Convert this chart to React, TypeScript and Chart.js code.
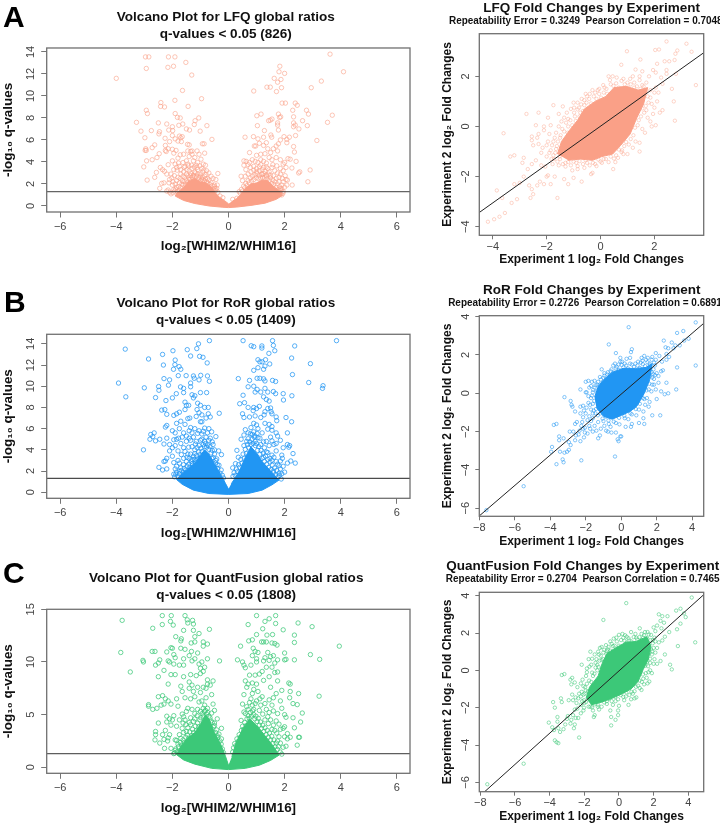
import React, { useEffect, useRef } from "react";
import { Chart, registerables } from "chart.js";

Chart.register(...registerables);

type P = [number, number];

const volcanoXTicks = [-6, -4, -2, 0, 2, 4, 6];
const lfqVolcanoYTicks = [0, 2, 4, 6, 8, 10, 12, 14];
const rorVolcanoYTicks = [0, 2, 4, 6, 8, 10, 12, 14];
const qfVolcanoYTicks = [0, 5, 10, 15];
const lfqPairXTicks = [-4, -2, 0, 2];
const lfqPairYTicks = [-4, -2, 0, 2];
const rorPairXTicks = [-8, -6, -4, -2, 0, 2, 4];
const rorPairYTicks = [-6, -4, -2, 0, 2, 4];
const qfPairXTicks = [-8, -6, -4, -2, 0, 2, 4];
const qfPairYTicks = [-6, -4, -2, 0, 2, 4];

const lfqVolcano: P[] = [[-4.0,11.6],[-2.96,13.55],[-2.84,13.55],[-2.93,12.5],[-2.14,13.55],[-1.91,13.55],[-2.16,12.6],[-1.96,12.7],[-1.52,13.05],[-1.31,11.9],[-1.64,10.5],[-1.91,9.6],[-0.96,9.75],[-1.44,9.05],[-2.41,9.4],[-2.42,9.05],[-2.28,9.0],[-2.93,8.7],[-2.89,8.4],[-1.9,8.4],[-1.82,8.05],[-1.72,8.0],[-3.28,7.6],[-3.12,6.8],[-2.98,6.2],[-2.75,6.85],[-2.5,7.55],[-2.2,7.45],[-2.0,7.2],[-1.99,6.85],[-2.13,6.9],[-1.63,7.45],[-1.77,7.33],[-1.5,7.0],[-1.39,6.9],[-1.19,7.75],[-1.06,8.0],[-1.22,7.4],[-0.77,7.3],[-1.01,6.8],[-0.59,6.05],[-0.93,5.65],[-0.87,5.65],[-1.46,5.6],[-1.4,5.55],[-2.46,6.75],[-2.48,6.55],[-2.26,6.15],[-2.0,6.4],[-1.9,6.1],[-1.75,6.35],[-1.7,6.2],[-1.65,6.3],[-1.8,5.9],[-1.68,5.85],[-2.1,5.85],[-2.25,5.5],[-2.15,5.2],[-2.25,5.05],[-2.22,4.95],[-2.0,5.15],[-1.87,5.05],[-1.95,4.8],[-2.95,5.2],[-2.97,5.05],[-2.93,5.05],[-2.63,5.55],[-2.72,5.3],[-2.47,4.75],[-2.55,4.4],[-2.72,4.2],[-2.92,4.1],[-3.02,3.55],[-2.43,3.5],[-2.35,3.3],[-2.28,3.15],[-2.57,3.05],[-2.63,2.6],[-2.9,2.35],[-2.2,2.9],[-2.15,3.75],[-1.9,3.8],[-1.85,3.5],[-1.78,3.9],[-1.7,3.3],[-1.62,3.95],[-1.55,3.6],[-1.5,4.1],[-1.45,3.8],[-1.4,4.5],[-1.35,4.95],[-1.3,4.7],[-1.25,4.1],[-1.2,4.4],[-1.15,3.7],[-1.1,3.95],[-1.05,4.7],[-0.98,4.25],[-0.9,3.8],[-0.85,4.8],[-0.82,3.7],[-0.78,3.2],[-0.7,3.0],[-0.62,2.7],[-0.55,2.5],[-0.45,2.4],[-0.38,2.95],[-1.6,4.7],[-1.72,4.65],[-1.8,4.35],[-2.0,4.1],[-1.95,3.3],[-2.05,2.9],[-2.1,2.4],[-2.3,2.1],[-2.38,2.05],[-2.45,1.6],[-2.2,1.35],[-2.1,1.25],[-1.95,1.5],[-1.9,2.0],[-1.8,2.6],[-1.7,2.9],[-1.6,3.1],[-1.5,2.9],[-1.4,3.2],[-1.3,3.4],[-1.2,3.1],[-1.1,3.3],[-1.0,2.9],[-0.92,3.1],[-0.85,2.7],[-1.55,2.6],[-1.65,2.3],[-1.75,2.1],[-1.85,1.7],[-2.0,1.9],[-1.35,2.75],[-1.45,5.0],[-1.3,5.0],[-1.12,5.0],[-1.25,2.8],[-1.05,2.6],[-0.95,2.45],[-0.75,2.5],
[3.62,13.8],[4.1,12.2],[3.31,11.35],[2.95,10.75],[1.83,12.7],[1.8,12.2],[2.0,12.05],[1.63,11.6],[1.87,11.5],[1.75,11.25],[1.37,10.8],[1.49,10.8],[1.89,10.75],[1.71,10.4],[0.9,10.45],[1.91,9.35],[2.03,9.35],[2.38,9.35],[2.45,9.15],[2.29,8.7],[2.78,8.7],[2.85,8.35],[2.32,8.1],[3.7,8.25],[3.53,7.6],[2.64,7.75],[2.32,7.55],[2.38,7.35],[2.32,7.2],[2.81,7.3],[2.51,7.0],[2.39,6.4],[3.15,5.95],[1.01,8.2],[1.16,8.35],[1.78,8.35],[1.86,8.1],[1.82,8.05],[1.43,7.75],[1.49,7.8],[1.55,7.9],[1.03,7.3],[1.28,6.85],[1.75,7.55],[1.75,7.35],[1.78,6.9],[1.51,6.45],[1.54,6.25],[0.59,6.25],[0.89,6.3],[1.05,6.1],[1.25,6.25],[1.98,6.3],[2.17,6.25],[2.08,6.05],[2.08,5.75],[1.85,6.0],[2.32,5.4],[2.35,4.9],[2.41,4.05],[2.91,3.27],[2.54,3.1],[2.5,3.0],[2.26,3.45],[2.27,1.9],[2.83,2.2],[0.92,5.45],[0.97,5.45],[1.1,5.7],[1.25,5.5],[1.35,5.75],[1.4,5.2],[1.6,5.2],[1.7,5.45],[1.75,5.0],[1.78,5.65],[1.5,4.85],[1.3,4.75],[1.15,4.7],[1.0,4.6],[0.75,4.85],[0.85,4.2],[0.95,4.05],[1.05,3.95],[1.15,4.2],[1.25,4.05],[1.35,3.9],[1.45,4.4],[1.55,4.2],[1.7,4.4],[1.85,4.2],[1.95,3.8],[2.0,3.95],[2.12,4.3],[2.2,4.25],[2.05,3.5],[1.95,3.2],[2.02,2.75],[2.05,2.4],[2.1,2.35],[0.55,3.7],[0.62,3.3],[0.7,3.75],[0.55,4.1],[0.63,4.05],[0.78,3.5],[0.9,3.6],[1.0,3.4],[1.1,3.2],[1.25,3.5],[1.4,3.4],[1.55,3.5],[1.65,3.2],[1.75,3.0],[1.85,2.9],[1.95,2.2],[1.9,1.9],[1.85,1.6],[1.95,1.3],[1.85,1.1],[1.9,1.0],[0.45,2.7],[0.5,2.3],[0.6,2.7],[0.7,2.9],[1.2,2.9],[1.35,2.7],[1.5,2.8],[1.7,2.5],[1.8,2.2],[0.3,0.7],[0.38,1.3],[0.15,0.6],
[-0.3,0.9],[-0.2,0.75],[-0.48,1.6],[-0.5,1.9],[-0.4,1.9]];
const lfqVolcanoDense: P[] = [[-2.05,1.1],[-2.15,1.45],[-1.98,1.2],[-1.92,1.35],[-1.88,1.55],[-1.82,1.3],[-1.78,1.75],[-1.74,1.45],[-1.7,1.65],[-1.66,2.0],[-1.62,1.9],[-1.58,2.2],[-1.54,1.95],[-1.5,2.35],[-1.46,2.15],[-1.42,2.55],[-1.38,2.4],[-1.34,2.95],[-1.3,2.6],[-1.26,2.75],[-1.22,2.65],[-1.18,3.0],[-1.14,2.7],[-1.1,2.9],[-1.06,2.45],[-1.02,2.7],[-0.98,2.3],[-0.94,2.6],[-0.9,2.35],[-0.86,2.25],[-0.82,2.45],[-0.78,2.2],[-0.74,2.05],[-0.7,2.35],[-0.66,1.95],[-0.62,2.1],[-0.58,1.85],[-0.54,1.55],[-0.5,1.75],[-0.46,1.4],[-0.42,1.6],[-0.38,1.25],[-1.58,3.5],[-1.48,3.3],[-1.42,3.65],[-1.32,3.7],[-1.22,3.55],[-1.12,3.5],[-1.02,3.65],[-0.95,3.4],[-0.88,3.25],[-0.8,2.85],[-1.75,3.6],[-1.83,3.25],[-1.93,2.75],[-2.02,2.55],[-2.12,2.1],[-1.72,2.5],[-1.62,2.7],[-1.45,2.75],[-1.85,2.3],[-1.98,2.2],
[0.42,1.15],[0.46,1.5],[0.5,1.35],[0.54,1.8],[0.58,1.65],[0.62,2.05],[0.66,1.85],[0.7,2.3],[0.74,2.1],[0.78,2.55],[0.82,2.25],[0.86,2.7],[0.9,2.4],[0.94,2.85],[0.98,2.55],[1.02,2.95],[1.06,2.5],[1.1,2.75],[1.14,2.55],[1.18,2.85],[1.22,2.6],[1.26,2.95],[1.3,2.55],[1.34,2.8],[1.38,2.45],[1.42,2.9],[1.46,2.3],[1.5,2.55],[1.54,2.05],[1.58,2.35],[1.62,1.95],[1.66,2.2],[1.7,1.7],[1.74,2.0],[1.78,1.5],[1.82,1.75],[1.86,1.4],[1.9,1.55],[1.94,1.15],[0.8,3.1],[0.9,3.25],[1.0,3.1],[1.1,3.55],[1.2,3.3],[1.3,3.15],[1.35,3.55],[1.45,3.1],[1.15,3.75],[0.75,3.95],[1.6,2.75],[1.8,2.6],[1.92,2.5],[2.0,1.7],[2.08,1.9],[1.58,3.75],[1.72,3.65],[1.85,3.4]];
const lfqVolcanoCore: P[] = [[0,0.2],[-0.15,0.5],[-0.3,0.75],[-0.45,1.1],[-0.6,1.7],[-0.8,2.1],[-1.0,2.2],[-1.2,2.5],[-1.4,2.3],[-1.6,1.7],[-1.85,1.15],[-1.9,0.9],[-1.6,0.5],[-1.2,0.22],[-0.7,0.0],[-0.2,-0.12],[0,-0.15],[0.3,-0.1],[0.8,0.05],[1.3,0.25],[1.7,0.6],[1.92,0.95],[1.85,1.3],[1.6,1.8],[1.4,2.3],[1.2,2.35],[1.0,2.1],[0.8,2.0],[0.6,1.6],[0.42,1.0],[0.28,0.65],[0.12,0.4]];

const rorVolcano: P[] = [[-3.92,10.3],[-3.66,9.0],[-3.68,13.5],[-2.85,12.57],[-2.35,13.0],[-1.98,13.35],[-2.32,12.0],[-1.47,13.45],[-1.13,13.55],[-1.07,14.0],[-0.68,14.3],[-1.35,12.85],[-1.03,12.82],[-0.91,12.73],[-0.76,12.2],[-1.9,12.47],[-1.91,12.04],[-1.96,11.6],[-1.76,11.85],[-1.7,11.6],[-1.79,11.0],[-1.51,11.0],[-1.25,10.97],[-1.22,10.75],[-0.99,11.03],[-0.75,10.97],[-2.3,10.72],[-2.1,10.6],[-0.68,10.47],[-1.05,10.6],[-3.0,9.85],[-2.49,9.97],[-2.48,9.62],[-2.14,10.1],[-1.71,9.94],[-1.6,9.8],[-1.35,10.3],[-1.35,9.95],[-2.6,8.93],[-2.23,8.65],[-2.0,8.9],[-1.86,9.3],[-1.6,9.4],[-1.3,9.2],[-1.2,9.1],[-1.0,9.4],[-0.78,9.4],[-1.25,8.9],[-1.55,8.5],[-1.5,8.2],[-1.42,8.2],[-1.1,8.4],[-1.0,8.2],[-0.85,8.0],[-0.72,8.0],[-1.12,7.8],[-1.05,7.5],[-0.95,7.3],[-0.33,7.45],[-0.72,7.4],[-0.65,7.1],[-0.8,7.0],[-2.38,7.75],[-2.27,7.8],[-2.2,7.35],[-1.95,7.25],[-1.85,7.4],[-1.75,7.55],[-1.55,7.8],[-1.38,7.0],[-1.45,6.95],[-1.15,7.15],[-1.0,6.65],[-0.95,6.65],[-1.85,6.5],[-1.7,6.7],[-1.55,6.4],[-2.2,6.3],[-2.25,6.15],[-2.0,5.8],[-1.9,5.6],[-1.75,6.0],[-1.35,6.1],[-1.4,5.8],[-1.2,6.0],[-0.85,6.05],[-0.7,6.0],[-0.6,5.7],[-0.75,5.6],[-0.95,5.5],[-1.1,5.55],[-1.3,5.6],[-1.5,5.3],[-1.65,5.2],[-1.85,5.0],[-1.95,4.95],[-2.2,5.1],[-2.65,5.6],[-2.77,5.45],[-2.7,5.25],[-2.8,5.0],[-2.6,4.85],[-2.45,5.0],[-3.03,4.0],[-2.3,4.55],[-2.1,4.5],[-2.0,4.2],[-1.9,4.4],[-1.7,4.6],[-1.6,4.2],[-1.8,3.9],[-1.5,4.8],[-1.35,4.9],[-1.15,4.8],[-1.0,4.9],[-0.85,4.8],[-0.7,4.9],[-0.45,5.25],[-0.55,4.5],[-0.5,4.0],[-0.35,3.9],[-0.25,3.55],[-1.3,4.3],[-1.2,4.0],[-1.45,3.6],[-1.25,3.4],[-1.6,3.2],[-1.8,3.0],[-2.0,3.4],[-2.1,3.9],[-2.2,3.2],[-2.3,2.9],[-2.25,2.95],[-2.48,2.35],[-2.35,2.1],[-2.2,2.2],[-1.95,2.8],[-1.85,2.45],[-1.7,2.3],[-1.6,2.6],[-1.5,2.9],[-1.4,3.2],[-1.3,2.7],[-1.15,3.0],[-1.0,3.3],[-0.6,3.2],[-0.45,3.0],[-0.4,2.6],[-1.75,2.0],[-1.95,1.7],[-1.85,1.9],[-1.6,1.5],
[3.85,14.3],[0.52,14.3],[0.81,13.82],[0.9,13.73],[1.19,13.8],[1.19,13.6],[1.57,14.3],[1.6,13.85],[1.65,13.35],[1.44,13.1],[2.36,13.8],[2.25,12.66],[2.92,12.13],[2.28,11.1],[2.86,10.35],[3.37,10.05],[3.35,9.8],[2.26,9.1],[1.95,9.3],[1.96,8.7],[1.05,12.5],[1.12,12.3],[1.2,12.3],[1.32,12.5],[1.47,12.1],[1.3,11.9],[1.25,11.6],[1.05,11.75],[0.9,11.5],[1.02,10.75],[1.12,10.75],[1.25,10.7],[1.3,10.5],[1.57,10.55],[1.68,10.45],[0.35,10.72],[0.75,10.55],[0.7,9.95],[0.9,10.0],[1.02,9.7],[1.3,9.8],[1.15,9.45],[0.95,9.45],[0.52,9.15],[1.25,9.0],[1.4,9.45],[1.6,9.5],[1.68,9.3],[1.35,8.75],[1.45,8.6],[0.4,8.35],[0.57,8.45],[0.7,8.0],[0.9,8.0],[1.0,7.9],[0.88,7.7],[1.1,8.1],[1.4,7.9],[1.5,7.95],[1.52,7.6],[1.3,7.6],[0.5,7.4],[0.55,7.05],[0.75,7.1],[0.95,7.2],[1.15,7.05],[1.27,7.3],[1.55,7.4],[1.7,7.1],[1.72,6.75],[2.05,7.05],[2.25,6.65],[0.9,6.5],[1.0,6.35],[1.3,6.5],[1.45,6.4],[1.55,6.2],[0.7,5.6],[0.55,5.4],[0.85,5.45],[0.95,5.3],[1.05,5.15],[1.2,5.6],[1.4,5.95],[1.55,5.85],[1.7,5.6],[1.75,5.3],[1.5,5.2],[2.1,5.6],[0.45,5.0],[0.65,4.8],[0.95,4.8],[1.15,4.5],[1.35,4.8],[1.45,4.4],[1.7,4.6],[1.95,4.2],[2.1,4.5],[2.18,4.4],[2.15,4.25],[1.7,3.9],[1.9,3.5],[1.92,3.2],[2.3,3.65],[2.22,2.95],[2.38,2.75],[2.1,2.75],[1.95,2.45],[1.85,2.2],[1.75,2.65],[1.55,3.0],[1.55,3.5],[1.35,3.8],[1.25,3.3],[1.7,2.9],[2.0,1.9],[1.9,1.75],[1.8,1.8],[0.3,3.95],[0.35,3.3],[0.25,2.7],[0.15,2.3],[1.6,2.0],[1.52,1.55]];
const rorVolcanoDense: P[] = [[-1.92,1.45],[-1.88,1.7],[-1.8,1.5],[-1.75,1.75],[-1.68,2.05],[-1.62,1.85],[-1.58,2.25],[-1.52,2.1],[-1.48,2.45],[-1.42,2.65],[-1.38,2.35],[-1.32,2.95],[-1.28,2.55],[-1.22,3.1],[-1.18,2.75],[-1.14,3.45],[-1.1,3.15],[-1.06,3.8],[-1.02,3.55],[-0.98,4.15],[-0.94,3.85],[-0.9,4.5],[-0.86,4.3],[-0.82,4.6],[-0.78,4.25],[-0.74,4.45],[-0.7,4.05],[-0.66,4.3],[-0.62,3.7],[-0.58,3.95],[-0.54,3.25],[-0.5,3.6],[-0.46,2.75],[-0.42,3.15],[-0.38,2.25],[-0.34,2.55],[-0.3,1.8],[-0.26,2.1],[-0.22,1.6],[-0.18,1.35],[-1.48,3.3],[-1.35,3.6],[-1.3,3.1],[-1.2,3.65],[-1.12,4.2],[-1.05,4.4],[-1.18,4.55],[-1.42,4.25],[-1.55,3.85],[-1.68,3.55],[-1.75,2.75],[-1.9,2.2],[-0.95,5.0],[-0.8,5.2],[-0.65,5.1],[-0.58,4.75],[-0.9,5.75],[-1.05,5.8],[-1.25,5.2],[-1.4,5.1],[-1.6,5.6],[-1.78,5.1],
[0.16,1.5],[0.2,1.85],[0.24,1.6],[0.28,2.2],[0.32,1.95],[0.36,2.6],[0.4,2.35],[0.44,3.1],[0.48,2.75],[0.52,3.6],[0.56,3.2],[0.6,4.05],[0.64,3.65],[0.68,4.5],[0.72,4.2],[0.76,4.75],[0.8,4.5],[0.84,5.0],[0.88,4.6],[0.92,5.2],[0.96,4.4],[1.0,4.6],[1.04,3.95],[1.08,4.3],[1.12,3.6],[1.16,3.95],[1.2,3.2],[1.24,3.7],[1.28,2.9],[1.32,3.4],[1.36,2.65],[1.4,3.1],[1.44,2.35],[1.48,2.85],[1.52,2.15],[1.56,2.55],[1.6,1.85],[1.64,2.3],[1.68,1.65],[1.72,2.05],[1.76,1.45],[1.82,1.6],[1.88,1.25],[0.55,4.4],[0.7,5.05],[0.78,5.5],[0.9,5.7],[1.02,5.55],[1.12,5.1],[1.25,4.75],[1.28,4.2],[1.4,3.75],[1.48,3.2],[1.62,3.3],[1.8,2.5],[1.85,2.95],[1.05,6.0],[0.8,6.1],[0.6,5.9],[1.62,4.5],[1.55,4.85],[1.85,4.9]];
const rorVolcanoCore: P[] = [[0,0.3],[-0.1,0.8],[-0.22,1.4],[-0.35,2.0],[-0.5,2.7],[-0.7,3.6],[-0.85,4.0],[-1.0,3.5],[-1.15,2.9],[-1.4,2.3],[-1.65,1.8],[-1.85,1.2],[-1.65,0.75],[-1.25,0.2],[-0.7,-0.12],[0,-0.2],[0.7,-0.12],[1.2,0.2],[1.55,0.7],[1.8,1.15],[1.6,1.7],[1.4,2.3],[1.2,2.9],[1.0,3.7],[0.8,4.3],[0.6,3.3],[0.42,2.2],[0.25,1.4],[0.1,0.8]];

const qfVolcano: P[] = [[-3.79,13.95],[-3.84,10.9],[-3.5,9.05],[-3.05,10.15],[-3.03,10.0],[-2.72,11.0],[-2.62,11.0],[-2.7,13.2],[-2.36,14.4],[-2.36,13.55],[-2.04,14.4],[-2.07,13.85],[-1.97,13.5],[-1.55,14.4],[-1.47,14.0],[-1.45,13.7],[-1.28,13.95],[-1.25,13.6],[-1.6,13.0],[-1.25,13.0],[-1.05,12.7],[-0.68,13.1],[-1.2,12.4],[-1.88,12.4],[-1.68,12.2],[-1.7,12.0],[-1.33,11.8],[-1.2,11.9],[-0.9,11.9],[-0.75,11.7],[-0.9,11.5],[-1.7,11.3],[-2.05,11.35],[-2.0,11.3],[-2.2,10.95],[-1.95,10.7],[-1.55,11.2],[-1.32,11.0],[-1.1,10.85],[-1.4,10.6],[-1.6,10.3],[-1.9,10.4],[-2.1,10.0],[-2.45,10.2],[-2.5,9.9],[-2.6,9.7],[-2.15,10.1],[-1.95,9.8],[-1.75,9.7],[-1.6,9.7],[-1.3,10.1],[-1.2,10.3],[-0.95,10.0],[-0.32,10.1],[-0.75,10.3],[-1.05,9.8],[-1.0,9.4],[-0.85,9.5],[-0.9,9.1],[-2.3,9.2],[-2.5,8.6],[-2.05,8.8],[-1.9,8.8],[-1.6,8.6],[-1.35,8.8],[-1.15,8.7],[-1.0,8.9],[-0.75,8.3],[-0.55,8.2],[-0.75,7.9],[-0.65,7.8],[-1.4,8.1],[-1.3,7.8],[-1.1,7.6],[-0.9,7.6],[-0.8,7.5],[-2.15,7.9],[-1.7,7.7],[-1.65,7.2],[-1.4,7.5],[-1.25,7.2],[-1.0,7.1],[-0.6,6.9],[-0.8,6.6],[-1.2,6.7],[-1.35,6.5],[-1.55,6.6],[-1.85,6.5],[-2.5,6.7],[-2.35,6.8],[-2.25,6.5],[-2.15,6.3],[-2.05,6.0],[-1.8,5.8],[-2.3,6.0],[-2.85,5.95],[-2.85,5.8],[-2.7,5.5],[-2.55,5.6],[-2.4,5.9],[-1.3,5.5],[-1.1,5.5],[-0.85,5.9],[-0.55,6.0],[-0.5,5.4],[-1.5,5.3],[-1.6,4.8],[-1.75,4.5],[-1.95,4.9],[-2.2,4.85],[-2.1,4.6],[-2.0,4.5],[-2.5,4.2],[-2.2,4.3],[-2.05,4.0],[-1.85,3.9],[-1.55,4.5],[-1.35,4.7],[-1.2,4.6],[-0.4,4.6],[-0.5,4.2],[-0.25,3.7],[-2.25,3.5],[-2.1,3.1],[-2.35,3.1],[-2.6,3.4],[-2.6,3.1],[-2.62,2.6],[-2.45,2.3],[-2.3,2.65],[-2.15,2.8],[-2.17,2.5],[-2.05,1.8],[-2.28,1.8],[-1.9,2.6],[-1.75,3.1],[-1.65,3.7],[-1.5,3.4],[-1.9,1.6],[-1.8,2.2],[-0.4,3.0],[-0.25,2.7],[-1.95,1.3],
[3.95,11.5],[2.98,13.35],[2.48,13.7],[2.92,10.7],[3.25,10.25],[3.23,6.75],[1.0,14.4],[1.68,14.4],[1.45,14.1],[1.3,13.85],[0.7,13.55],[1.22,13.15],[1.68,13.65],[1.95,13.05],[2.35,12.55],[1.57,12.6],[1.37,12.55],[1.0,12.6],[0.85,12.1],[0.72,12.0],[1.18,11.9],[1.25,11.9],[1.35,11.9],[1.55,11.8],[1.65,11.75],[1.73,11.6],[0.43,11.5],[0.88,11.3],[0.95,11.0],[1.05,10.9],[1.4,10.9],[1.6,10.6],[1.5,10.5],[1.3,10.4],[1.0,10.3],[0.85,10.6],[0.32,10.2],[0.5,10.0],[0.55,9.7],[0.6,9.45],[0.8,9.7],[1.0,10.0],[1.25,10.1],[1.45,10.15],[1.75,10.2],[2.0,10.2],[2.05,10.25],[2.35,10.2],[2.0,10.85],[2.35,11.85],[1.65,9.9],[1.55,9.5],[1.35,9.5],[1.1,8.85],[0.95,8.75],[0.75,8.75],[1.2,9.1],[1.65,9.0],[1.75,9.05],[1.45,8.6],[0.6,8.2],[0.7,7.9],[0.85,8.0],[1.0,7.9],[1.25,8.25],[1.75,8.2],[2.15,8.0],[2.2,7.9],[0.65,7.6],[0.9,7.4],[1.05,7.2],[0.85,7.0],[1.5,7.6],[1.7,7.0],[1.9,7.3],[2.2,7.2],[2.5,7.0],[2.18,6.6],[0.55,6.9],[0.8,6.5],[1.2,6.7],[1.45,6.4],[1.6,6.6],[1.85,6.3],[2.3,6.05],[2.45,5.95],[0.5,6.0],[0.65,5.75],[0.9,5.5],[1.15,5.9],[1.35,5.5],[1.55,5.9],[1.75,5.1],[1.9,5.6],[2.0,5.0],[2.05,4.75],[2.3,4.7],[2.63,5.15],[2.57,4.3],[2.35,3.75],[2.0,3.85],[1.95,3.7],[1.85,3.6],[1.5,4.5],[1.6,4.0],[1.4,4.8],[1.65,3.5],[2.1,3.2],[2.0,2.9],[2.2,2.85],[2.5,2.85],[2.53,2.85],[2.45,2.1],[2.1,2.7],[2.05,2.0],[1.85,2.3],[1.8,2.9],[1.95,1.9],[1.75,2.5]];
const qfVolcanoDense: P[] = [[-1.92,1.35],[-1.88,1.75],[-1.82,1.5],[-1.78,1.95],[-1.72,2.35],[-1.68,2.1],[-1.62,2.6],[-1.58,2.35],[-1.52,2.85],[-1.46,3.05],[-1.42,2.75],[-1.38,3.35],[-1.32,3.0],[-1.28,3.6],[-1.24,3.3],[-1.18,3.9],[-1.14,3.5],[-1.1,4.2],[-1.06,3.85],[-1.02,4.5],[-0.98,4.7],[-0.94,5.1],[-0.9,4.85],[-0.86,5.3],[-0.82,5.4],[-0.78,5.05],[-0.74,5.2],[-0.7,4.85],[-0.66,4.7],[-0.62,4.4],[-0.58,4.25],[-0.54,3.85],[-0.5,3.95],[-0.46,3.3],[-0.42,3.55],[-0.38,2.85],[-0.34,3.15],[-0.3,2.5],[-0.26,2.2],[-0.22,1.75],[-0.18,1.4],[-1.6,3.3],[-1.45,3.75],[-1.35,4.05],[-1.25,4.35],[-1.12,4.9],[-1.0,5.3],[-0.9,5.6],[-0.75,5.6],[-0.6,5.15],[-1.4,4.25],[-1.7,2.75],[-1.85,2.55],[-1.52,4.05],[-1.62,4.2],[-1.05,6.2],[-0.95,6.3],[-1.2,5.1],[-1.65,5.05],[-1.45,5.6],
[0.15,1.45],[0.18,1.85],[0.22,2.25],[0.26,2.05],[0.3,2.7],[0.34,2.45],[0.38,3.1],[0.42,2.85],[0.46,3.5],[0.5,3.9],[0.54,3.6],[0.58,4.25],[0.62,3.95],[0.66,4.6],[0.7,4.9],[0.74,4.65],[0.78,5.2],[0.82,4.85],[0.86,5.35],[0.9,5.0],[0.94,4.6],[0.98,4.85],[1.02,4.35],[1.06,4.65],[1.1,4.0],[1.14,4.3],[1.18,3.7],[1.22,4.0],[1.26,3.4],[1.3,3.75],[1.34,3.1],[1.38,3.5],[1.42,2.85],[1.46,3.25],[1.5,2.6],[1.54,2.95],[1.58,2.25],[1.62,2.6],[1.66,1.95],[1.7,2.3],[1.74,1.7],[1.78,1.95],[1.84,1.45],[1.9,1.25],[0.6,5.1],[0.7,5.5],[0.85,5.9],[1.0,6.3],[1.1,5.4],[1.22,5.05],[1.3,4.5],[1.42,4.15],[1.55,3.6],[1.72,3.25],[1.12,6.5],[0.95,6.05],[0.75,6.15],[1.3,6.05],[1.45,5.2],[1.6,5.35],[1.7,4.4],[1.8,4.1],[0.45,4.45],[0.55,5.25]];
const qfVolcanoCore: P[] = [[0,0.2],[-0.1,1.0],[-0.28,2.2],[-0.5,3.3],[-0.7,4.6],[-0.82,5.0],[-0.95,4.3],[-1.2,3.3],[-1.45,2.8],[-1.7,2.0],[-1.85,1.2],[-1.6,0.7],[-1.2,0.3],[-0.6,-0.1],[0,-0.22],[0.6,-0.1],[1.1,0.2],[1.5,0.65],[1.8,1.15],[1.6,2.0],[1.3,3.0],[1.0,4.0],[0.75,4.6],[0.5,3.6],[0.28,2.4],[0.12,1.0]];

const lfqPair: P[] = [[2.45,3.39],[3.19,3.3],[3.38,2.98],[2.85,3.03],[2.78,2.9],[2.03,3.05],[2.17,3.07],[0.98,3.0],[1.48,2.67],[0.77,2.46],[2.75,2.65],[2.38,2.6],[2.55,2.6],[2.1,2.5],[1.3,2.27],[1.55,2.2],[1.95,2.25],[2.45,2.25],[2.45,2.1],[2.8,2.1],[2.05,2.15],[1.8,2.0],[1.45,2.0],[1.2,2.0],[0.45,2.0],[0.3,2.0],[0.85,1.9],[2.25,1.95],[2.3,1.7],[2.65,1.5],[2.15,1.35],[3.54,1.65],[2.72,1.0],[2.1,1.0],[2.0,0.75],[2.3,0.65],[2.2,0.55],[2.76,0.23],[2.05,0.05],[1.9,0.0],[1.65,-0.25],[1.45,-0.65],[1.45,-1.0],[1.0,-1.1],[0.85,-1.1],[0.47,-1.7],[-0.3,-1.85],[-0.35,-1.9],[0.0,-1.4],[-1.3,-1.45],[-1.05,-1.75],[-0.85,-1.7],[-0.6,-1.65],[-1.0,-2.05],[-0.7,-2.2],[-1.35,-2.1],[-1.2,-2.3],[-1.6,-2.85],[-1.85,-2.3],[-1.7,-2.0],[-1.95,-1.95],[-2.0,-2.0],[-2.05,-1.6],[-2.2,-1.55],[-2.25,-2.2],[-2.1,-2.3],[-2.35,-2.35],[-2.5,-2.7],[-2.6,-2.85],[-2.55,-2.5],[-2.65,-2.35],[-2.85,-2.0],[-3.0,-2.25],[-3.2,-2.3],[-3.1,-2.9],[-3.3,-3.05],[-3.55,-3.45],[-3.75,-3.6],[-3.95,-3.7],[-4.18,-3.8],[-3.85,-2.55],[-3.65,-2.85],[-3.6,-0.27],[-3.35,-1.2],[-3.2,-1.15],[-2.85,-1.25],[-2.9,-1.45],[-2.55,-1.5],[-2.7,-1.7],[-2.4,-1.35],[-2.2,-1.05],[-2.15,-0.85],[-2.0,-1.2],[-2.5,-0.75],[-2.55,-0.4],[-2.55,-0.55],[-2.35,-0.45],[-2.3,-0.7],[-2.3,-0.3],[-2.4,0.05],[-2.3,0.55],[-2.75,0.5],[-2.1,-0.15],[-1.9,-0.3],[-2.1,0.0],[-1.85,0.05],[-1.95,0.35],[-1.8,-0.75],[-1.7,-0.45],[-1.75,0.85],[-1.4,0.8],[-1.55,0.5],[-1.25,0.55],[-1.1,0.7],[-1.0,0.95],[-0.6,1.05],[-0.8,0.75],[-0.5,1.2],[-0.3,1.45],[-0.1,1.45],[-0.55,1.3],[0.15,1.55],[0.25,1.3],[-0.05,1.5],[0.1,1.65],[1.55,1.65],[1.25,1.75],[1.0,1.75],[1.7,1.75],[1.85,1.45],[1.9,0.9],[1.75,0.35],[1.7,0.65],[1.85,1.15],[1.3,-0.6],[0.8,-0.95],[0.65,-1.25],[0.2,-1.3],[-0.2,-1.5],[-0.5,-1.45],[-0.9,-1.45],[-1.5,-1.3],[-1.75,-1.15],[-1.65,-0.9],[-1.6,-1.4],[-1.3,-1.6],[-1.5,-0.45],[-1.2,0.0],[-1.35,-0.2],[-0.95,0.4],[-0.75,0.55]];
const lfqPairDense: P[] = [[-1.72,-1.3],[-1.68,-1.05],[-1.62,-0.78],[-1.58,-0.6],[-1.52,-1.2],[-1.48,-0.35],[-1.42,-0.1],[-1.28,0.15],[-1.22,-0.25],[-1.12,0.25],[-1.05,0.05],[-0.98,0.55],[-0.92,0.22],[-0.85,0.68],[-0.78,0.4],[-0.72,0.88],[-0.65,0.62],[-0.6,0.85],[-0.52,0.95],[-0.42,1.1],[-0.35,0.92],[-0.25,1.2],[-0.15,1.1],[-0.05,1.3],[0.02,1.15],[0.12,1.35],[0.22,1.5],[0.32,1.25],[0.38,1.68],[0.48,1.62],[0.58,1.72],[0.68,1.55],[0.78,1.82],[0.9,1.68],[1.02,1.55],[1.12,1.68],[1.25,1.55],[1.35,1.6],[1.48,1.5],[1.6,1.6],[1.68,1.4],[1.75,1.2],[1.78,0.95],[1.68,0.82],[1.62,0.55],[1.55,0.72],[1.5,0.4],[1.42,0.25],[1.38,0.05],[1.28,-0.05],[1.22,-0.35],[1.12,-0.5],[1.05,-0.72],[0.95,-0.62],[0.88,-0.78],[0.78,-1.02],[0.68,-0.92],[0.58,-1.15],[0.5,-1.28],[0.38,-1.2],[0.3,-1.42],[0.12,-1.3],[0.05,-1.45],[-0.08,-1.32],[-0.15,-1.58],[-0.28,-1.45],[-0.4,-1.55],[-0.55,-1.35],[-0.65,-1.5],[-0.78,-1.38],[-0.85,-1.58],[-1.0,-1.4],[-1.1,-1.55],[-1.2,-1.42],[-1.4,-1.5],[-1.55,-1.55],[-1.78,-1.5],[-1.82,-1.3],[-1.9,-1.05],[-2.0,-0.75],[-1.95,-0.6],[-1.85,-0.95],[-1.75,-0.6],[-1.65,-0.25],[-1.55,0.0],[-1.45,0.2],[-1.35,0.35],[-1.2,0.3],[-0.98,0.75],[-0.85,0.95],[-0.7,1.1],[-0.4,1.3],[-0.2,1.35],[0.35,1.85],[0.6,1.95],[1.1,1.9],[1.45,1.85],[2.0,1.35],[2.05,1.55],[1.95,0.5],[1.85,0.2],[1.55,-0.1],[1.2,-0.85],[0.55,-1.42]];
const lfqPairCore: P[] = [[-1.6,-1.1],[-1.45,-0.6],[-1.15,-0.15],[-0.85,0.25],[-0.6,0.7],[-0.2,1.0],[0.2,1.2],[0.5,1.55],[0.95,1.6],[1.4,1.45],[1.75,1.55],[1.6,0.9],[1.35,0.35],[1.1,-0.3],[0.75,-0.75],[0.45,-1.1],[0.05,-1.2],[-0.3,-1.35],[-0.75,-1.3],[-1.2,-1.35]];

const rorPair: P[] = [[4.2,3.7],[3.5,3.25],[3.15,3.15],[3.8,2.85],[3.55,2.75],[2.4,2.75],[2.85,2.65],[2.5,2.4],[2.65,2.35],[3.05,2.5],[2.95,2.35],[3.3,2.5],[4.2,1.45],[3.15,1.35],[0.42,3.45],[-0.7,2.55],[0.6,2.3],[0.55,2.15],[-0.3,2.1],[1.95,2.1],[2.15,1.95],[2.55,2.05],[2.7,1.9],[2.55,1.75],[2.3,1.65],[1.15,1.85],[1.3,1.95],[0.5,1.85],[0.3,1.8],[-0.05,1.85],[-0.05,1.65],[-0.45,1.45],[-0.15,1.5],[-1.1,1.25],[-0.75,1.1],[-0.95,1.05],[-1.2,0.85],[-1.5,0.65],[-1.85,0.65],[-2.0,0.6],[-1.65,0.6],[-1.35,0.45],[-1.5,0.3],[-2.0,0.05],[-1.95,0.05],[-2.3,0.2],[-3.2,-0.2],[-2.85,-0.4],[-2.8,-0.6],[-2.75,-0.7],[-2.15,-0.65],[-2.3,-0.7],[-2.1,-0.9],[-1.85,-0.5],[-1.7,-0.85],[-2.6,-0.95],[-2.3,-1.05],[-2.15,-1.25],[-1.8,-1.2],[-2.2,-1.5],[-2.25,-1.7],[-2.5,-1.5],[-2.6,-1.6],[-3.65,-1.6],[-3.8,-1.65],[-2.9,-2.0],[-2.7,-2.0],[-2.4,-2.15],[-2.1,-2.3],[-1.9,-2.1],[-1.75,-1.85],[-3.5,-2.25],[-3.5,-2.45],[-3.25,-2.35],[-2.95,-2.55],[-2.85,-2.7],[-2.6,-2.45],[-2.3,-2.5],[-3.9,-2.8],[-3.95,-3.05],[-3.45,-3.05],[-3.2,-3.1],[-3.05,-3.05],[-2.95,-2.95],[-3.3,-3.45],[-3.25,-3.6],[-3.65,-3.7],[-2.25,-3.5],[-0.35,-3.3],[-5.5,-4.85],[-7.6,-6.1],[-1.3,-2.35],[-1.2,-2.2],[-0.85,-1.95],[-0.75,-2.0],[-0.55,-2.05],[-0.3,-2.05],[-0.2,-2.4],[-0.15,-2.5],[-0.05,-2.25],[0.0,-2.25],[0.25,-1.75],[0.55,-1.75],[0.6,-1.6],[1.0,-1.55],[1.25,-1.3],[1.3,-1.6],[1.75,-1.15],[2.2,-1.15],[1.55,-0.7],[1.6,-0.45],[2.0,-0.3],[2.45,-0.05],[2.55,0.55],[2.65,0.0],[3.1,0.2],[1.95,0.2],[2.25,0.1],[2.1,0.55],[1.85,0.75],[2.1,0.9],[2.0,1.05],[2.35,1.2],[2.25,1.15],[1.9,1.45],[1.6,1.55],[1.4,1.75],[1.1,1.6],[0.8,1.55],[0.5,1.55],[0.2,1.55],[-0.3,1.3],[-0.6,1.15],[-1.0,0.8],[-1.6,0.05],[-1.7,-0.25],[-1.6,-0.55],[-1.45,-1.05],[-1.6,-1.3],[-1.3,-1.5],[-1.5,-1.7],[-1.0,-1.45],[-0.7,-1.6],[-0.3,-1.55],[0.2,-1.3],[0.6,-1.1],[1.0,-0.85],[1.35,-0.6],[1.45,-0.25],[1.7,0.1],[1.75,0.45],[1.8,1.0]];
const rorPairDense: P[] = [[-1.65,-0.12],[-1.58,0.18],[-1.52,-0.4],[-1.45,0.42],[-1.38,0.12],[-1.3,0.6],[-1.22,0.42],[-1.15,0.72],[-1.05,0.55],[-0.95,0.92],[-0.85,0.72],[-0.78,0.98],[-0.65,0.95],[-0.55,1.25],[-0.42,1.08],[-0.25,1.38],[-0.12,1.22],[0.02,1.48],[0.12,1.35],[0.28,1.45],[0.38,1.3],[0.6,1.5],[0.72,1.38],[0.92,1.45],[1.05,1.32],[1.22,1.52],[1.35,1.42],[1.48,1.62],[1.62,1.45],[1.72,1.75],[1.85,1.6],[1.82,1.25],[1.72,1.1],[1.75,0.82],[1.62,0.88],[1.58,0.5],[1.48,0.62],[1.42,0.15],[1.3,0.32],[1.22,-0.25],[1.12,-0.12],[1.05,-0.55],[0.92,-0.42],[0.82,-0.82],[0.7,-0.72],[0.52,-1.05],[0.38,-0.88],[0.18,-1.18],[0.05,-1.05],[-0.12,-1.28],[-0.28,-1.15],[-0.42,-1.48],[-0.58,-1.25],[-0.72,-1.42],[-0.85,-1.22],[-1.05,-1.32],[-1.18,-1.05],[-1.32,-1.15],[-1.42,-0.82],[-1.55,-0.9],[-1.75,-0.6],[-1.85,-0.15],[-1.95,-0.75],[-2.0,-1.05],[-1.9,-1.4],[-1.7,-1.45],[-1.6,-1.05],[-1.8,0.3],[-1.7,0.38],[-0.35,1.55],[0.05,1.65],[0.95,1.65],[1.2,1.7],[1.75,1.9],[1.5,1.85],[1.95,1.75],[1.9,0.95],[1.85,0.45],[1.55,0.2],[1.3,-0.3],[1.25,-0.95],[0.85,-1.15],[0.4,-1.35],[-0.1,-1.62],[-0.6,-1.75],[-0.95,-1.7],[-1.15,-1.85],[-1.4,-1.95],[-1.6,-2.0],[-1.8,-1.7],[-2.05,-1.8],[-2.35,-1.95],[-2.55,-2.2],[-2.05,-2.05],[-2.15,-1.85]];
const rorPairCore: P[] = [[-1.5,-0.2],[-1.3,0.35],[-1.0,0.7],[-0.5,1.1],[0.1,1.3],[0.8,1.3],[1.4,1.35],[1.75,1.55],[1.6,0.7],[1.3,0.0],[0.9,-0.65],[0.5,-0.95],[0.0,-1.15],[-0.5,-1.35],[-1.0,-1.2],[-1.4,-0.75]];

const qfPair: P[] = [[4.2,3.9],[3.55,3.3],[3.3,3.2],[3.75,3.05],[3.85,2.85],[3.55,2.5],[3.35,2.2],[4.4,1.5],[3.4,1.3],[0.42,3.6],[-0.9,2.7],[2.3,3.0],[2.5,2.9],[2.8,2.9],[2.6,2.55],[2.4,2.65],[2.2,2.4],[2.45,2.25],[2.0,2.3],[2.1,2.1],[2.9,2.05],[2.65,1.8],[2.5,1.6],[2.3,1.5],[2.2,1.2],[2.65,0.85],[2.95,0.3],[3.05,0.05],[2.4,0.5],[2.2,0.35],[2.05,0.6],[1.9,-0.15],[1.75,-0.6],[1.65,-0.7],[1.45,-0.75],[1.0,-1.45],[0.9,-1.5],[0.55,-1.85],[0.3,-1.6],[0.0,-1.9],[-0.05,-2.15],[-0.05,-2.4],[-0.2,-2.65],[-0.45,-2.5],[-0.45,-2.95],[-0.5,-2.15],[-0.7,-1.8],[-1.0,-1.95],[-1.15,-2.1],[-1.4,-2.4],[-1.45,-2.5],[-1.5,-2.15],[-2.3,-3.6],[-3.7,-3.75],[-3.6,-3.85],[-3.5,-3.9],[-5.5,-5.0],[-7.6,-6.1],[-4.05,-2.8],[-3.85,-3.05],[-3.75,-3.2],[-3.5,-3.1],[-3.4,-3.3],[-3.2,-3.15],[-3.1,-2.9],[-3.0,-2.6],[-2.95,-2.45],[-2.8,-2.85],[-2.6,-3.1],[-2.55,-2.9],[-2.35,-2.55],[-2.2,-2.3],[-2.05,-2.15],[-3.55,-2.5],[-3.55,-2.75],[-3.8,-1.7],[-3.7,-2.0],[-3.35,-1.5],[-3.3,-1.7],[-2.9,-1.6],[-2.65,-1.6],[-2.5,-1.45],[-2.35,-1.5],[-2.7,-1.3],[-2.2,-1.85],[-2.0,-1.75],[-3.3,-0.25],[-3.15,-0.2],[-2.8,-0.5],[-2.7,-0.4],[-2.75,-0.75],[-2.55,-0.65],[-2.4,-0.9],[-2.2,-0.7],[-2.1,-0.5],[-2.05,-0.85],[-1.9,-0.3],[-1.85,0.1],[-2.15,0.3],[-1.7,0.2],[-1.75,0.6],[-1.65,1.0],[-1.4,0.85],[-1.3,0.6],[-1.1,1.2],[-1.25,0.3],[-0.9,0.95],[-0.6,1.25],[-0.35,1.3],[-0.3,1.7],[0.0,1.9],[0.2,1.95],[0.25,1.75],[0.45,1.8],[0.6,1.6],[0.7,2.05],[1.2,2.25],[1.5,2.05],[1.65,2.05],[1.85,1.9],[1.4,1.75],[1.0,1.75],[1.95,1.45],[2.0,1.2],[1.9,0.85],[1.8,0.4],[1.7,-0.1],[1.4,-0.45],[1.2,-0.95],[0.8,-1.25],[0.4,-1.4],[-0.2,-1.65],[-0.7,-1.65],[-1.2,-1.85],[-1.65,-1.95],[-1.9,-1.7],[-2.05,-1.3],[-1.95,-0.9],[-1.5,-0.3],[-1.25,0.0],[-1.0,0.55],[-0.7,1.05]];
const qfPairDense: P[] = [[-2.02,-1.6],[-1.98,-1.25],[-1.92,-1.08],[-1.85,-0.72],[-1.78,-1.12],[-1.72,-0.55],[-1.6,-0.62],[-1.55,-0.12],[-1.42,-0.18],[-1.35,0.15],[-1.18,0.18],[-1.12,0.52],[-1.05,0.78],[-0.92,0.6],[-0.85,1.1],[-0.72,0.88],[-0.65,1.12],[-0.48,1.05],[-0.42,1.42],[-0.25,1.32],[-0.12,1.55],[0.0,1.32],[0.12,1.62],[0.32,1.58],[0.42,1.48],[0.55,1.72],[0.72,1.55],[0.85,1.78],[1.05,1.65],[1.18,1.78],[1.3,1.62],[1.45,1.88],[1.62,1.72],[1.72,1.92],[1.82,1.62],[1.95,1.62],[1.85,1.12],[1.92,1.02],[1.75,0.92],[1.8,0.62],[1.62,0.45],[1.68,0.22],[1.52,0.25],[1.55,-0.15],[1.38,-0.22],[1.32,-0.62],[1.18,-0.55],[1.1,-0.82],[0.98,-0.88],[0.9,-1.12],[0.72,-1.15],[0.6,-1.32],[0.42,-1.18],[0.25,-1.42],[0.1,-1.32],[-0.05,-1.55],[-0.22,-1.42],[-0.42,-1.65],[-0.58,-1.52],[-0.85,-1.72],[-1.02,-1.62],[-1.22,-1.95],[-1.42,-1.82],[-1.55,-1.98],[-1.75,-1.95],[-2.02,-2.0],[-2.12,-1.65],[-2.2,-1.4],[-2.15,-1.15],[-2.3,-1.25],[-2.45,-1.75],[-2.55,-2.1],[-2.4,-2.05],[-2.65,-2.4],[-2.75,-2.65],[-2.5,-2.55],[-1.85,-0.1],[-1.6,0.3],[-1.55,0.62],[-1.35,0.4],[-1.15,0.85],[-1.2,1.0],[-1.0,1.25],[-0.75,1.35],[-0.5,1.55],[-0.15,1.75],[0.35,1.88],[0.95,1.95],[1.3,1.95],[2.05,1.75],[2.1,1.55],[2.1,0.95],[2.0,0.35],[1.8,0.0],[1.6,-0.4],[1.3,-1.05],[0.7,-1.55],[-0.35,-1.85]];
const qfPairCore: P[] = [[-1.9,-1.5],[-1.7,-0.9],[-1.2,-0.3],[-1.0,0.3],[-0.7,0.9],[-0.2,1.2],[0.4,1.5],[1.0,1.55],[1.6,1.8],[1.85,1.3],[1.7,0.6],[1.4,0.05],[1.1,-0.6],[0.7,-1.0],[0.2,-1.25],[-0.4,-1.5],[-1.0,-1.7],[-1.6,-1.85]];

const thresholdY = [1.3, 1.3];
const volcanoLineX = [-6.48, 6.47];
const lfqFitX = [-4.5, 3.83];
const lfqFitY = [-3.43, 2.94];
const rorFitX = [-8, 4.65];
const rorFitY = [-6.4, 3.65];
const qfFitX = [-7.75, 4.89];
const qfFitY = [-6.5, 4.05];

const FONT = '"Liberation Sans", Arial, sans-serif';
const SALMON = "rgb(250,160,135)";
const SALMON_RING = "rgba(250,160,135,0.8)";
const BLUE = "rgb(33,150,243)";
const GREEN = "rgb(60,200,120)";

function toXY(xs: number[], ys: number[]) { return xs.map((x, i) => ({ x, y: ys[i] })); }
function pairs(ps: P[]) { return ps.map(([x, y]) => ({ x, y })); }

const frame = {
  id: "frame",
  afterDatasetsDraw(chart: any) {
    const { left, top, width, height } = chart.chartArea;
    const c = chart.ctx;
    c.save();
    c.strokeStyle = "#707070";
    c.lineWidth = 1.3;
    c.strokeRect(left, top, width, height);
    c.restore();
  },
};
const centerBlocks = {
  id: "centerBlocks",
  afterLayout(chart: any, _a: any, o: any) {
    const move = (b: any, cx: number) => { const d = cx - (b.left + b.right) / 2; b.left += d; b.right += d; };
    for (const b of chart.boxes) {
      if (b === chart.titleBlock) move(b, o.titleCx);
      else if (b.options && b.options.text === o.subtitle && o.subtitle) move(b, o.subCx);
    }
  },
};

type PanelDef = any;

const X_VOLCANO = "log\u2082[WHIM2/WHIM16]";
const Y_VOLCANO = "-log\u2081\u2080 q-values";
const X_PAIR = "Experiment 1 log\u2082 Fold Changes";
const Y_PAIR = "Experiment 2 log\u2082 Fold Changes";

const volcanoBase = { left: 0, width: 452, height: 270, rightPad: 42, yWidth: 46.7, titleSize: 13.55, titleLH: 1.232, axisSize: 13.4,
  xMin: -6.48, xMax: 6.47, xTicks: volcanoXTicks, xTitle: X_VOLCANO, yTitle: Y_VOLCANO, tickLen: 5.5, tickPadX: 3, tickPadY: 4.5, radius: 2.2, border: 0.75, lineX: volcanoLineX, lineY: thresholdY, lineW: 1.3, yTitlePad: 1.8 };
const pairBase = { left: 430, width: 290, rightPad: 16.3, height: 270, yWidth: 49.3, titleSize: 13.5, titleLH: 1, axisSize: 12, xTitle: X_PAIR, yTitle: Y_PAIR, tickLen: 4, tickPadX: 1, tickPadY: 3, radius: 1.7, border: 0.55, lineW: 1, xTitlePad: 2.8, yTitlePad: 12, lineColor: "#222" };

const panels: PanelDef[] = [
  { ...volcanoBase, top: 0, xHeight: 58, xTitlePad: 15.3, titleCx: 225.8, title: ["Volcano Plot for LFQ global ratios", "q-values < 0.05 (826)"], titlePad: { top: 9, bottom: 5.6 }, yMin: -0.55, yMax: 14.36, yTicks: lfqVolcanoYTicks, color: SALMON, ring: SALMON_RING, pts: [...lfqVolcano, ...lfqVolcanoDense], core: lfqVolcanoCore, lineColor: "rgba(50,50,50,0.75)" },
  { ...pairBase, top: 0, xHeight: 34.7, titleCx: 161.7, subCx: 155.8, title: "LFQ Fold Changes by Experiment", subtitle: "Repeatability Error = 0.3249  Pearson Correlation = 0.7048", titlePad: { top: 1.25, bottom: 0 }, subPad: { top: 0.95, bottom: 6.8 }, xMin: -4.5, xMax: 3.83, yMin: -4.34, yMax: 3.7, xTicks: lfqPairXTicks, yTicks: lfqPairYTicks, color: SALMON, ring: SALMON_RING, pts: [...lfqPair, ...lfqPairDense], core: lfqPairCore, lineX: lfqFitX, lineY: lfqFitY },
  { ...volcanoBase, top: 285, xHeight: 56.7, xTitlePad: 14, titleCx: 225.8, title: ["Volcano Plot for RoR global ratios", "q-values < 0.05 (1409)"], titlePad: { top: 10.3, bottom: 5.6 }, yMin: -0.57, yMax: 14.9, yTicks: rorVolcanoYTicks, color: BLUE, ring: BLUE, pts: [...rorVolcano, ...rorVolcanoDense], core: rorVolcanoCore, lineColor: "rgba(30,30,30,0.8)" },
  { ...pairBase, top: 282, xHeight: 35.7, titleCx: 161.7, subCx: 155, title: "RoR Fold Changes by Experiment", subtitle: "Repeatability Error = 0.2726  Pearson Correlation = 0.6891", titlePad: { top: 1.25, bottom: 0 }, subPad: { top: 0.95, bottom: 6.8 }, xMin: -8, xMax: 4.65, yMin: -6.42, yMax: 4.05, xTicks: rorPairXTicks, yTicks: rorPairYTicks, color: BLUE, ring: BLUE, pts: [...rorPair, ...rorPairDense], core: rorPairCore, lineX: rorFitX, lineY: rorFitY },
  { ...volcanoBase, top: 560, xHeight: 56.7, xTitlePad: 14, titleCx: 226.2, title: ["Volcano Plot for QuantFusion global ratios", "q-values < 0.05 (1808)"], titlePad: { top: 10.3, bottom: 5.6 }, yMin: -0.57, yMax: 15, yTicks: qfVolcanoYTicks, color: GREEN, ring: GREEN, pts: [...qfVolcano, ...qfVolcanoDense], core: qfVolcanoCore, lineColor: "rgba(40,40,40,0.75)" },
  { ...pairBase, top: 557, xHeight: 35.3, titleCx: 152.7, subCx: 152.7, title: "QuantFusion Fold Changes by Experiment", subtitle: "Repeatability Error = 0.2704  Pearson Correlation = 0.7465", titlePad: { top: 2.25, bottom: 0 }, subPad: { top: 0.95, bottom: 7.4 }, xMin: -8.06, xMax: 4.89, yMin: -6.5, yMax: 4.18, xTicks: qfPairXTicks, yTicks: qfPairYTicks, color: GREEN, ring: GREEN, pts: [...qfPair, ...qfPairDense], core: qfPairCore, lineX: qfFitX, lineY: qfFitY },
];

const letters = [
  { text: "A", left: 3, top: 0 },
  { text: "B", left: 4, top: 285 },
  { text: "C", left: 3, top: 556 },
];

const fmt = (v: number | string) => String(v).replace("-", "\u2212");

function Panel({ p }: { p: PanelDef }) {
  const ref = useRef<HTMLCanvasElement>(null);
  useEffect(() => {
    const axisCommon = (ticks: number[], min: number, max: number, size: number, which: "x" | "y") => ({
      type: "linear" as const,
      min, max,
      afterBuildTicks: (s: any) => { s.ticks = ticks.map((value) => ({ value })); },
      afterFit: (s: any) => { if (which === "x") s.height = size; else s.width = size; },
      border: { display: false },
      grid: { drawOnChartArea: false, drawTicks: true, tickLength: p.tickLen, tickColor: "#666", tickWidth: 0.9 },
    });
    const chart = new Chart(ref.current!, {
      type: "scatter",
      data: {
        datasets: [
          { data: toXY(p.lineX, p.lineY), showLine: true, pointRadius: 0, borderColor: p.lineColor, borderWidth: p.lineW, order: 0 },
          { data: pairs(p.pts), pointRadius: p.radius, pointBorderWidth: p.border, pointBorderColor: p.ring, pointBackgroundColor: "transparent", order: 1 },
          { data: pairs(p.core), showLine: true, fill: "shape", pointRadius: 0, borderColor: p.color, borderWidth: 1, backgroundColor: p.color, order: 2 },
        ] as any,
      },
      options: {
        responsive: false,
        animation: false,
        devicePixelRatio: 1,
        layout: { padding: { left: 0, top: 0, bottom: 0, right: p.rightPad } },
        events: [],
        plugins: {
          legend: { display: false },
          tooltip: { enabled: false },
          title: { display: true, text: p.title, color: "#111", padding: p.titlePad, font: { family: FONT, size: p.titleSize, weight: "bold", lineHeight: p.titleLH } },
          subtitle: { display: !!p.subtitle, text: p.subtitle || "", color: "#111", padding: p.subPad, font: { family: FONT, size: 10, weight: "bold", lineHeight: 1.12 } },
          centerBlocks: { titleCx: p.titleCx, subCx: p.subCx, subtitle: p.subtitle },
        } as any,
        scales: {
          x: {
            ...axisCommon(p.xTicks, p.xMin, p.xMax, p.xHeight, "x"),
            ticks: { autoSkip: false, maxRotation: 0, padding: p.tickPadX, color: "#444", font: { family: FONT, size: 11 }, callback: (v: any) => fmt(v) },
            title: { display: true, text: p.xTitle, color: "#111", padding: { top: 0, bottom: p.xTitlePad }, font: { family: FONT, size: p.axisSize, weight: "bold", lineHeight: 1.2 } },
          },
          y: {
            ...axisCommon(p.yTicks, p.yMin, p.yMax, p.yWidth, "y"),
            ticks: { autoSkip: false, minRotation: 90, maxRotation: 90, crossAlign: "center", padding: p.tickPadY, color: "#444", font: { family: FONT, size: 11 }, callback: (v: any) => fmt(v) },
            title: { display: true, text: p.yTitle, color: "#111", padding: { top: p.yTitlePad, bottom: 0 }, font: { family: FONT, size: p.axisSize, weight: "bold", lineHeight: 1 } },
          },
        } as any,
      },
      plugins: [frame, centerBlocks],
    } as any);
    return () => chart.destroy();
  }, [p]);
  return <canvas ref={ref} width={p.width} height={p.height} style={{ position: "absolute", left: p.left, top: p.top, width: p.width, height: p.height }} />;
}

export default function App() {
  return (
    <div style={{ position: "absolute", left: 0, top: 0, width: 720, height: 830, overflow: "hidden", background: "#fff" }}>
      {panels.map((p, i) => <Panel key={i} p={p} />)}
      {letters.map((l) => (
        <div key={l.text} style={{ position: "absolute", left: l.left, top: l.top, fontFamily: FONT, fontWeight: "bold", fontSize: 30, lineHeight: "34px", color: "#000" }}>{l.text}</div>
      ))}
    </div>
  );
}
